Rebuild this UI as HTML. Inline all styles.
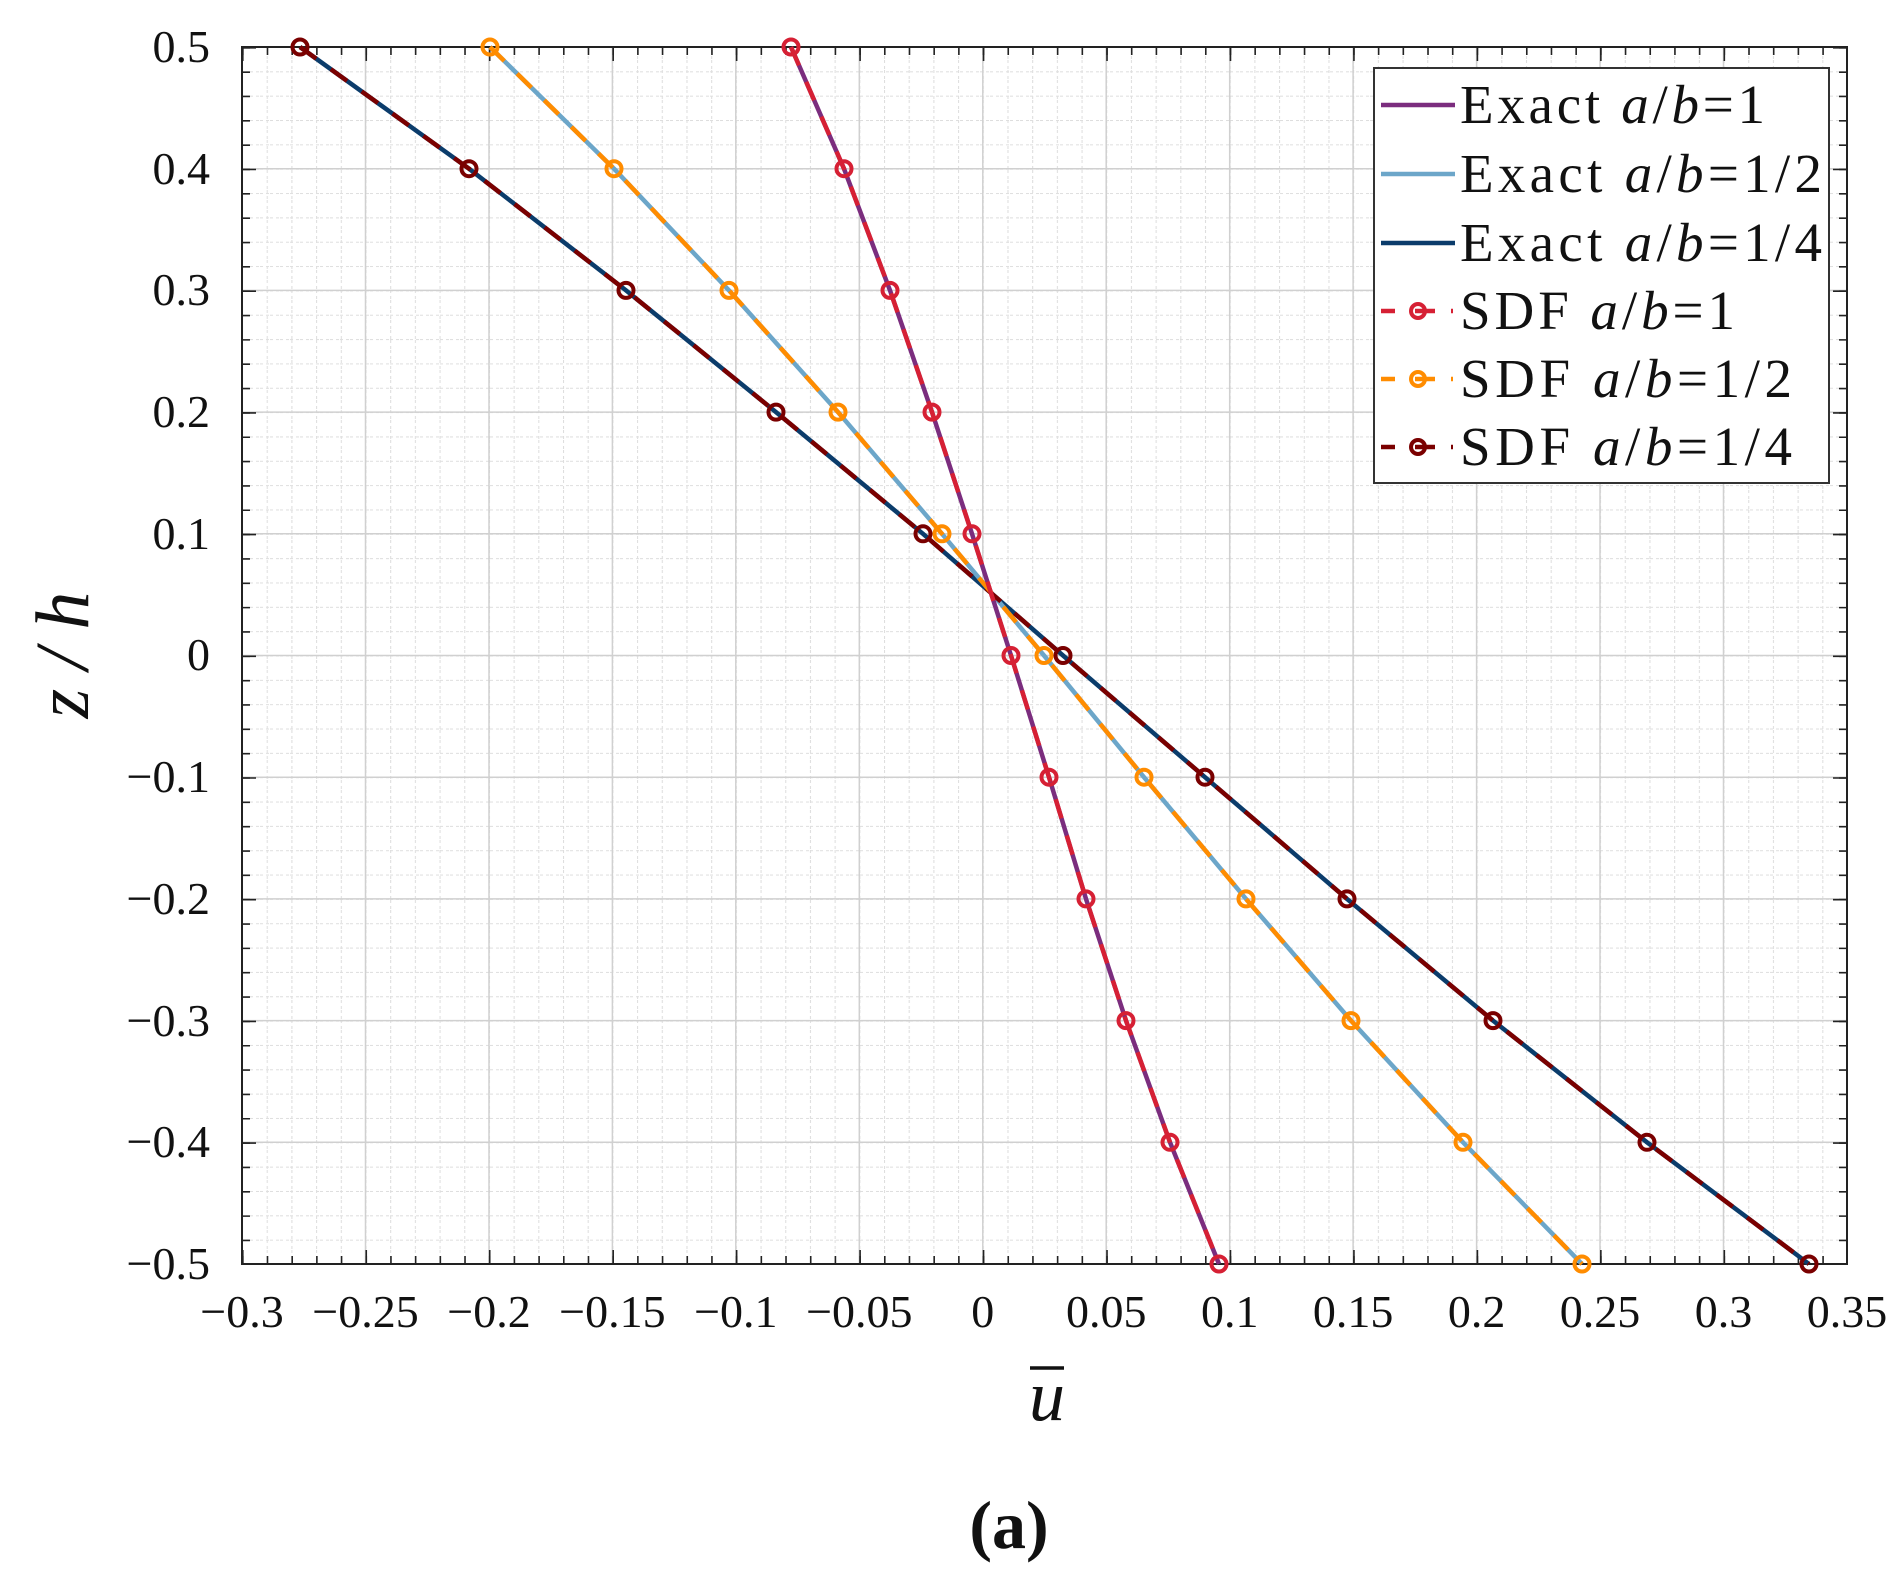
<!DOCTYPE html>
<html><head><meta charset="utf-8"><style>
html,body{margin:0;padding:0;background:#fff}
svg{display:block}
text{font-family:"Liberation Serif",serif;fill:#111}
</style></head><body>
<svg width="1899" height="1582" viewBox="0 0 1899 1582" xmlns="http://www.w3.org/2000/svg">
<defs>
<pattern id="mx" x="242" y="0" width="24.692" height="10" patternUnits="userSpaceOnUse">
<line x1="0.5" y1="0" x2="0.5" y2="10" stroke="#dedede" stroke-width="1.1" stroke-dasharray="3 3"/>
</pattern>
<pattern id="my" x="0" y="47" width="10" height="24.34" patternUnits="userSpaceOnUse">
<line x1="0" y1="0.5" x2="10" y2="0.5" stroke="#dedede" stroke-width="1.1" stroke-dasharray="3 3"/>
</pattern>
</defs>
<rect x="242" y="47" width="1605" height="1217" fill="#fff"/>
<rect x="242" y="47" width="1605" height="1217" fill="url(#mx)"/>
<rect x="242" y="47" width="1605" height="1217" fill="url(#my)"/>
<g stroke="#d0d0d0" stroke-width="1.5">
<line x1="365.5" y1="47" x2="365.5" y2="1264"/><line x1="489" y1="47" x2="489" y2="1264"/>
<line x1="612.4" y1="47" x2="612.4" y2="1264"/><line x1="735.8" y1="47" x2="735.8" y2="1264"/>
<line x1="859.3" y1="47" x2="859.3" y2="1264"/><line x1="982.8" y1="47" x2="982.8" y2="1264"/>
<line x1="1106.2" y1="47" x2="1106.2" y2="1264"/><line x1="1229.7" y1="47" x2="1229.7" y2="1264"/>
<line x1="1353.1" y1="47" x2="1353.1" y2="1264"/><line x1="1476.6" y1="47" x2="1476.6" y2="1264"/>
<line x1="1600" y1="47" x2="1600" y2="1264"/><line x1="1723.5" y1="47" x2="1723.5" y2="1264"/>
<line x1="242" y1="168.7" x2="1847" y2="168.7"/><line x1="242" y1="290.4" x2="1847" y2="290.4"/>
<line x1="242" y1="412.1" x2="1847" y2="412.1"/><line x1="242" y1="533.8" x2="1847" y2="533.8"/>
<line x1="242" y1="655.5" x2="1847" y2="655.5"/><line x1="242" y1="777.2" x2="1847" y2="777.2"/>
<line x1="242" y1="898.9" x2="1847" y2="898.9"/><line x1="242" y1="1020.6" x2="1847" y2="1020.6"/>
<line x1="242" y1="1142.3" x2="1847" y2="1142.3"/>
</g>
<g stroke="#222" stroke-width="1.6">
<line x1="242" y1="1260" x2="1847" y2="1260" stroke-width="8" stroke-dasharray="1.6 23.092"/>
<line x1="242" y1="51" x2="1847" y2="51" stroke-width="8" stroke-dasharray="1.6 23.092"/>
<line x1="242" y1="1257" x2="1847" y2="1257" stroke-width="14" stroke-dasharray="1.6 121.86"/>
<line x1="242" y1="54" x2="1847" y2="54" stroke-width="14" stroke-dasharray="1.6 121.86"/>
<line x1="246" y1="47" x2="246" y2="1264" stroke-width="8" stroke-dasharray="1.6 22.74"/>
<line x1="1843" y1="47" x2="1843" y2="1264" stroke-width="8" stroke-dasharray="1.6 22.74"/>
<line x1="249" y1="47" x2="249" y2="1264" stroke-width="14" stroke-dasharray="1.6 120.1"/>
<line x1="1840" y1="47" x2="1840" y2="1264" stroke-width="14" stroke-dasharray="1.6 120.1"/>
</g>
<rect x="242" y="47" width="1605" height="1217" fill="none" stroke="#222" stroke-width="2"/>
<g fill="none" stroke-width="4.5" stroke-linejoin="round">
<polyline stroke="#0b3c6b" points="300,47 469,168.7 626,290.4 776,412.1 923,533.8 1063,655.5 1205,777.2 1347,898.9 1493,1020.6 1647,1142.3 1809,1264"/>
<polyline stroke="#6ca6c9" points="490,47 614,168.7 729,290.4 838,412.1 942,533.8 1044,655.5 1144,777.2 1246,898.9 1351,1020.6 1463,1142.3 1582,1264"/>
<polyline stroke="#7b2d7e" points="791,47 844,168.7 890,290.4 932,412.1 972,533.8 1011,655.5 1049,777.2 1086,898.9 1126,1020.6 1170,1142.3 1219,1264"/>
</g>
<g fill="none" stroke-width="4.5" stroke-dasharray="20 18">
<polyline stroke="#7a0000" points="300,47 469,168.7 626,290.4 776,412.1 923,533.8 1063,655.5 1205,777.2 1347,898.9 1493,1020.6 1647,1142.3 1809,1264"/>
<polyline stroke="#ff8c00" points="490,47 614,168.7 729,290.4 838,412.1 942,533.8 1044,655.5 1144,777.2 1246,898.9 1351,1020.6 1463,1142.3 1582,1264"/>
<polyline stroke="#d62034" points="791,47 844,168.7 890,290.4 932,412.1 972,533.8 1011,655.5 1049,777.2 1086,898.9 1126,1020.6 1170,1142.3 1219,1264"/>
</g>
<g fill="none" stroke-width="4">
<g stroke="#7a0000">
<circle cx="300" cy="47" r="7.5"/><circle cx="469" cy="168.7" r="7.5"/><circle cx="626" cy="290.4" r="7.5"/><circle cx="776" cy="412.1" r="7.5"/><circle cx="923" cy="533.8" r="7.5"/><circle cx="1063" cy="655.5" r="7.5"/><circle cx="1205" cy="777.2" r="7.5"/><circle cx="1347" cy="898.9" r="7.5"/><circle cx="1493" cy="1020.6" r="7.5"/><circle cx="1647" cy="1142.3" r="7.5"/><circle cx="1809" cy="1264" r="7.5"/>
</g>
<g stroke="#ff8c00">
<circle cx="490" cy="47" r="7.5"/><circle cx="614" cy="168.7" r="7.5"/><circle cx="729" cy="290.4" r="7.5"/><circle cx="838" cy="412.1" r="7.5"/><circle cx="942" cy="533.8" r="7.5"/><circle cx="1044" cy="655.5" r="7.5"/><circle cx="1144" cy="777.2" r="7.5"/><circle cx="1246" cy="898.9" r="7.5"/><circle cx="1351" cy="1020.6" r="7.5"/><circle cx="1463" cy="1142.3" r="7.5"/><circle cx="1582" cy="1264" r="7.5"/>
</g>
<g stroke="#d62034">
<circle cx="791" cy="47" r="7.5"/><circle cx="844" cy="168.7" r="7.5"/><circle cx="890" cy="290.4" r="7.5"/><circle cx="932" cy="412.1" r="7.5"/><circle cx="972" cy="533.8" r="7.5"/><circle cx="1011" cy="655.5" r="7.5"/><circle cx="1049" cy="777.2" r="7.5"/><circle cx="1086" cy="898.9" r="7.5"/><circle cx="1126" cy="1020.6" r="7.5"/><circle cx="1170" cy="1142.3" r="7.5"/><circle cx="1219" cy="1264" r="7.5"/>
</g>
</g>
<g font-size="46" text-anchor="end">
<text x="210" y="62">0.5</text><text x="210" y="184">0.4</text><text x="210" y="305">0.3</text>
<text x="210" y="427">0.2</text><text x="210" y="549">0.1</text><text x="210" y="670">0</text>
<text x="210" y="792">−0.1</text><text x="210" y="914">−0.2</text><text x="210" y="1036">−0.3</text>
<text x="210" y="1157">−0.4</text><text x="210" y="1279">−0.5</text>
</g>
<g font-size="46" text-anchor="middle">
<text x="242" y="1327">−0.3</text><text x="365.5" y="1327">−0.25</text><text x="489" y="1327">−0.2</text>
<text x="612.4" y="1327">−0.15</text><text x="735.8" y="1327">−0.1</text><text x="859.3" y="1327">−0.05</text>
<text x="982.8" y="1327">0</text><text x="1106.2" y="1327">0.05</text><text x="1229.7" y="1327">0.1</text>
<text x="1353.1" y="1327">0.15</text><text x="1476.6" y="1327">0.2</text><text x="1600" y="1327">0.25</text>
<text x="1723.5" y="1327">0.3</text><text x="1847" y="1327">0.35</text>
</g>
<text x="0" y="0" font-size="76" font-style="italic" text-anchor="middle" transform="translate(88,655) rotate(-90)">z / h</text>
<text x="1047" y="1420" font-size="72" font-style="italic" text-anchor="middle">u</text>
<line x1="1030" y1="1368" x2="1064" y2="1368" stroke="#111" stroke-width="3.5"/>
<text x="1009" y="1548" font-size="68" font-weight="bold" text-anchor="middle">(a)</text>
<rect x="1374" y="68" width="455" height="415" fill="#fff" stroke="#333" stroke-width="2"/>
<g stroke-width="4.5">
<line x1="1381" y1="105" x2="1455" y2="105" stroke="#7b2d7e"/>
<line x1="1381" y1="174" x2="1455" y2="174" stroke="#6ca6c9"/>
<line x1="1381" y1="243" x2="1455" y2="243" stroke="#0b3c6b"/>
<g stroke="#d62034" fill="none"><line x1="1381" y1="311" x2="1395" y2="311"/><line x1="1415" y1="311" x2="1435" y2="311"/><line x1="1451" y1="311" x2="1453" y2="311"/><circle cx="1418" cy="311" r="7" stroke-width="4"/></g>
<g stroke="#ff8c00" fill="none"><line x1="1381" y1="379" x2="1395" y2="379"/><line x1="1415" y1="379" x2="1435" y2="379"/><line x1="1451" y1="379" x2="1453" y2="379"/><circle cx="1418" cy="379" r="7" stroke-width="4"/></g>
<g stroke="#7a0000" fill="none"><line x1="1381" y1="447" x2="1395" y2="447"/><line x1="1415" y1="447" x2="1435" y2="447"/><line x1="1451" y1="447" x2="1453" y2="447"/><circle cx="1418" cy="447" r="7" stroke-width="4"/></g>
</g>
<g font-size="55">
<text x="1460" y="123" textLength="305" lengthAdjust="spacing">Exact <tspan font-style="italic">a</tspan>/<tspan font-style="italic">b</tspan>=1</text>
<text x="1460" y="192" textLength="362" lengthAdjust="spacing">Exact <tspan font-style="italic">a</tspan>/<tspan font-style="italic">b</tspan>=1/2</text>
<text x="1460" y="261" textLength="362" lengthAdjust="spacing">Exact <tspan font-style="italic">a</tspan>/<tspan font-style="italic">b</tspan>=1/4</text>
<text x="1460" y="329" textLength="275" lengthAdjust="spacing">SDF <tspan font-style="italic">a</tspan>/<tspan font-style="italic">b</tspan>=1</text>
<text x="1460" y="397" textLength="332" lengthAdjust="spacing">SDF <tspan font-style="italic">a</tspan>/<tspan font-style="italic">b</tspan>=1/2</text>
<text x="1460" y="465" textLength="332" lengthAdjust="spacing">SDF <tspan font-style="italic">a</tspan>/<tspan font-style="italic">b</tspan>=1/4</text>
</g>
</svg>
</body></html>
